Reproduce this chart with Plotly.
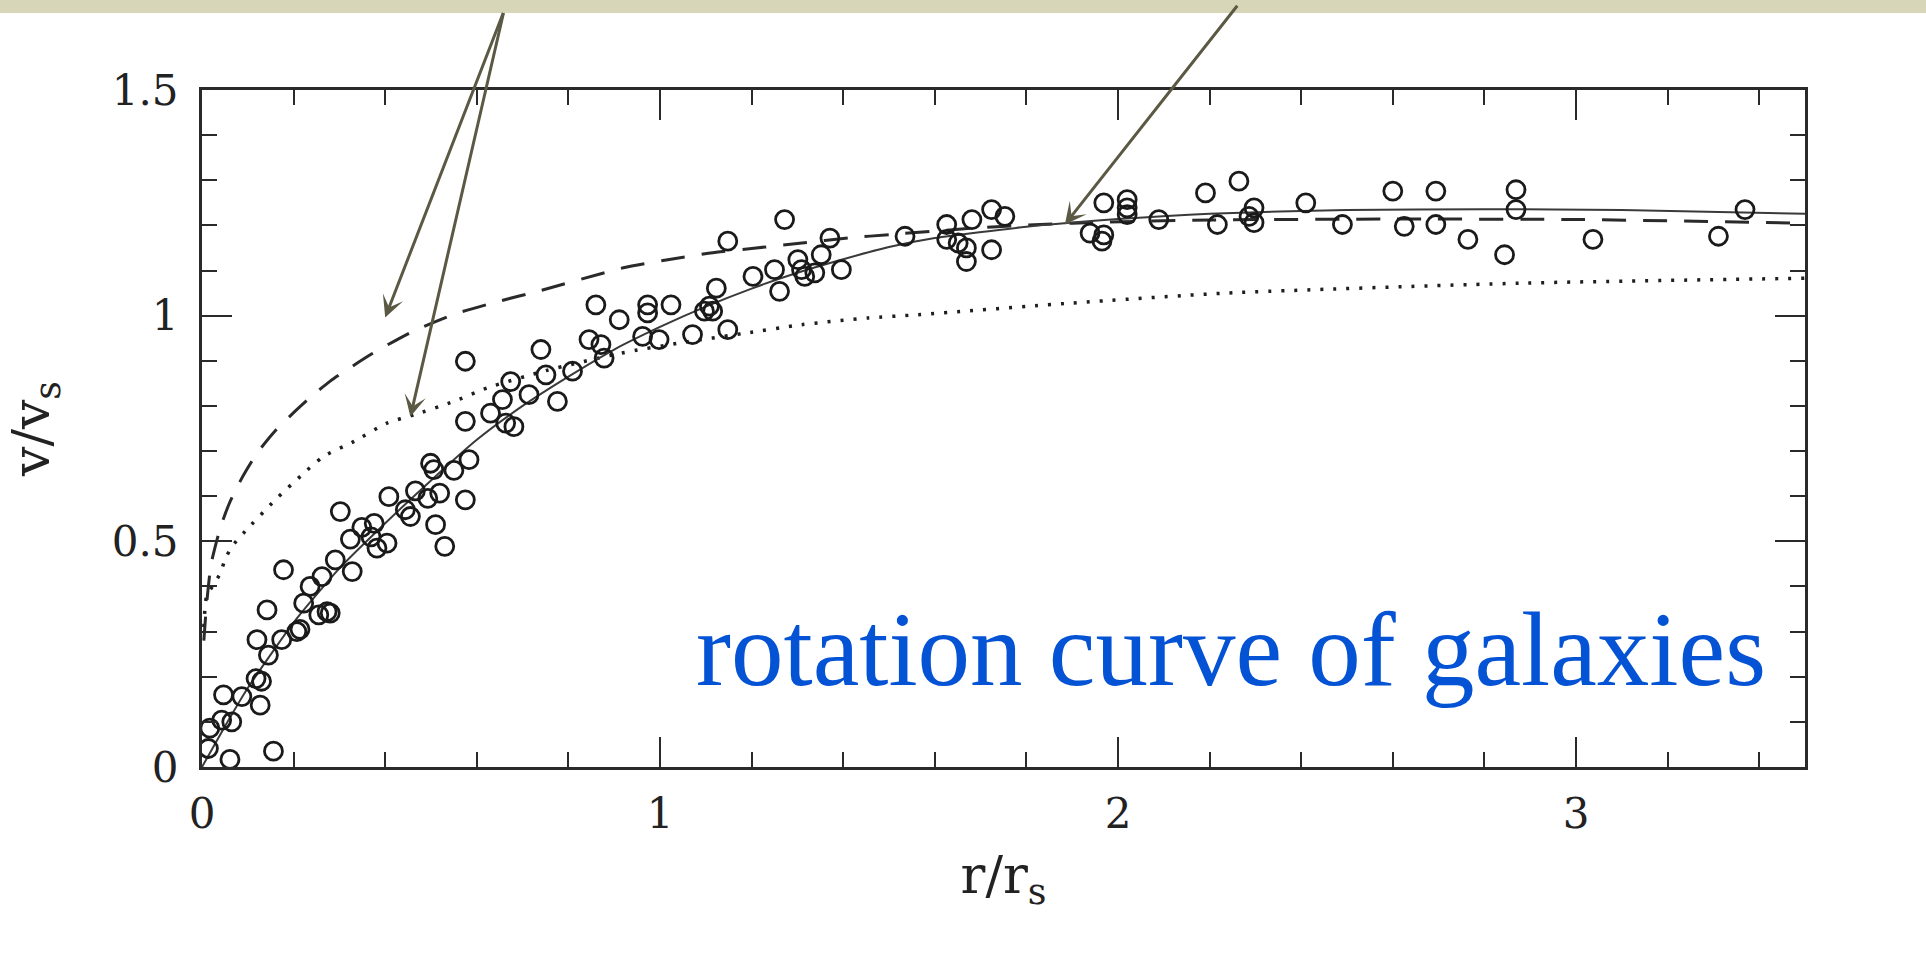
import plotly.graph_objects as go

# ---------------- data ----------------
obs_r = [0.014, 0.017, 0.043, 0.047, 0.061, 0.065, 0.087, 0.118, 0.120, 0.127, 0.130, 0.142, 0.145, 0.156,
         0.174, 0.178, 0.207, 0.214, 0.222, 0.236, 0.255, 0.262, 0.273, 0.280, 0.291,
         0.302, 0.324, 0.328, 0.349, 0.369, 0.376, 0.382, 0.404, 0.408, 0.444, 0.455, 0.466, 0.493, 0.499,
         0.506, 0.510, 0.519, 0.530, 0.550, 0.575, 0.583,
         0.575, 0.575, 0.630, 0.656, 0.663, 0.674, 0.681, 0.714, 0.740, 0.751, 0.776, 0.809, 0.845, 0.860,
         0.871, 0.878, 0.911,
         0.962, 0.973, 0.973, 0.998, 1.024, 1.071, 1.097, 1.108, 1.115, 1.123, 1.148, 1.148, 1.203, 1.250,
         1.261, 1.272, 1.301, 1.309, 1.316, 1.338, 1.352, 1.371, 1.396, 1.535,
         1.626, 1.626, 1.651, 1.669, 1.669, 1.681, 1.724, 1.724, 1.753, 1.939, 1.965, 1.969, 1.969, 2.020,
         2.020, 2.020, 2.089, 2.191, 2.217,
         2.264, 2.286, 2.297, 2.297, 2.410, 2.490, 2.600, 2.625, 2.694, 2.694, 2.764, 2.844, 2.869, 2.869,
         3.037, 3.311, 3.369]
obs_v = [0.041, 0.086, 0.104, 0.160, 0.017, 0.100, 0.156, 0.196, 0.282, 0.137, 0.190, 0.348, 0.248, 0.035,
         0.282, 0.437, 0.300, 0.305, 0.363, 0.400, 0.337, 0.422, 0.344, 0.341, 0.459,
         0.566, 0.505, 0.433, 0.531, 0.510, 0.540, 0.485, 0.496, 0.599, 0.570, 0.555, 0.612, 0.595, 0.673,
         0.659, 0.537, 0.607, 0.489, 0.657, 0.592, 0.681,
         0.899, 0.766, 0.784, 0.814, 0.762, 0.854, 0.754, 0.825, 0.925, 0.869, 0.810, 0.877, 0.947, 1.024,
         0.936, 0.906, 0.991,
         0.954, 1.006, 1.024, 0.947, 1.024, 0.958, 1.010, 1.021, 1.010, 1.061, 0.969, 1.165, 1.087, 1.102,
         1.054, 1.213, 1.124, 1.102, 1.087, 1.095, 1.135, 1.172, 1.102, 1.176,
         1.169, 1.202, 1.161, 1.120, 1.150, 1.213, 1.146, 1.235, 1.220, 1.183, 1.165, 1.179, 1.250, 1.224,
         1.239, 1.257, 1.213, 1.272, 1.202,
         1.298, 1.220, 1.206, 1.239, 1.250, 1.202, 1.276, 1.198, 1.202, 1.276, 1.169, 1.135, 1.235, 1.279,
         1.169, 1.176, 1.235]

solid_r = [0, 0.05, 0.1, 0.2, 0.3, 0.4, 0.5, 0.6, 0.7, 0.8, 0.9, 1.0, 1.1, 1.2, 1.3, 1.4, 1.5, 1.6,
           1.8, 2.0, 2.2, 2.5, 2.8, 3.1, 3.5]
solid_v = [0, 0.09, 0.175, 0.32, 0.44, 0.54, 0.635, 0.725, 0.80, 0.865, 0.925, 0.975, 1.02, 1.06, 1.095,
           1.125, 1.152, 1.172, 1.197, 1.214, 1.226, 1.234, 1.236, 1.234, 1.226]

dash_r = [0.004, 0.01, 0.02, 0.04, 0.06, 0.087, 0.12, 0.16, 0.2, 0.24, 0.28, 0.37, 0.46, 0.55, 0.645, 0.733,
          0.92, 1.017, 1.11, 1.21, 1.31, 1.41, 1.505, 1.7, 1.9, 2.2, 2.6, 3.0, 3.5]
dash_v = [0.28, 0.36, 0.45, 0.53, 0.585, 0.64, 0.695, 0.745, 0.785, 0.822, 0.855, 0.915, 0.965, 1.003, 1.031, 1.054,
          1.106, 1.124, 1.139, 1.15, 1.161, 1.172, 1.18, 1.195, 1.205, 1.212, 1.214, 1.213, 1.205]

dot_r = [0.004, 0.01, 0.025, 0.04, 0.05, 0.065, 0.094, 0.16, 0.218, 0.265, 0.331, 0.404, 0.462, 0.55,
         0.623, 0.75, 0.915, 1.046, 1.185, 1.309, 1.455, 1.563, 1.9, 2.235, 2.88, 3.5]
dot_v = [0.31, 0.378, 0.404, 0.429, 0.459, 0.488, 0.522, 0.592, 0.647, 0.688, 0.721, 0.762, 0.78, 0.81,
         0.84, 0.878, 0.917, 0.94, 0.961, 0.98, 0.995, 1.002, 1.028, 1.05, 1.072, 1.083]

x_tick_vals = [0, 1, 2, 3]
y_tick_vals = [0, 0.5, 1, 1.5]
y_tick_text = ["0", "0.5", "1", "1.5"]

label_text = "rotation curve of galaxies"
# arrows: (tip r, tip v, tail r, tail v)
arrow_tips = [(0.400, 0.996, 0.659, 1.674), (0.455, 0.776, 0.659, 1.674), (1.884, 1.202, 2.263, 1.69)]

# ---------------- figure ----------------
INK = "#2a2a2a"
fig = go.Figure()

fig.add_trace(go.Scatter(x=dot_r, y=dot_v, mode="lines", line=dict(color="#1e1e1e", width=3.5, dash="3px,10px", shape="spline", smoothing=0.6),
                         hoverinfo="skip", showlegend=False))
fig.add_trace(go.Scatter(x=dash_r, y=dash_v, mode="lines", line=dict(color="#2a2a2a", width=3, dash="24px,17px", shape="spline", smoothing=0.6),
                         hoverinfo="skip", showlegend=False))
fig.add_trace(go.Scatter(x=solid_r, y=solid_v, mode="lines", line=dict(color="#3a3a3a", width=2, shape="spline", smoothing=0.6),
                         hoverinfo="skip", showlegend=False))
fig.add_trace(go.Scatter(x=obs_r, y=obs_v, mode="markers",
                         marker=dict(symbol="circle-open", size=18, color="#1a1a1a", line=dict(width=2.8, color="#1a1a1a")),
                         showlegend=False))

tick_font = dict(family="DejaVu Serif", size=42, color="#222222")
title_font = dict(family="DejaVu Serif", size=52, color="#222222")

fig.update_xaxes(range=[0, 3.5], showgrid=False, zeroline=False,
                 showline=True, linecolor=INK, linewidth=3, mirror="allticks",
                 ticks="inside", ticklen=30, tickwidth=2, tickcolor=INK,
                 tickvals=x_tick_vals, tickfont=tick_font, ticklabelstandoff=8,
                 minor=dict(ticks="inside", ticklen=15, tickwidth=2, tickcolor=INK, dtick=0.2, tick0=0, showgrid=False),
                 title=dict(text="r/r<sub>s</sub>", font=title_font, standoff=20))
fig.update_yaxes(range=[0, 1.5], showgrid=False, zeroline=False,
                 showline=True, linecolor=INK, linewidth=3, mirror="allticks",
                 ticks="inside", ticklen=30, tickwidth=2, tickcolor=INK,
                 tickvals=y_tick_vals, ticktext=y_tick_text, tickfont=tick_font, ticklabelstandoff=12,
                 minor=dict(ticks="inside", ticklen=15, tickwidth=2, tickcolor=INK, dtick=0.1, tick0=0, showgrid=False),
                 title=dict(text="v/v<sub>s</sub>", font=title_font, standoff=46))

annotations = [dict(x=3.42, y=0.127, xref="x", yref="y", xanchor="right", yanchor="bottom",
                    text=label_text, showarrow=False,
                    font=dict(family="Liberation Serif", size=105, color="#0553D5"))]
for tx, ty, ax, ay in arrow_tips:
    annotations.append(dict(x=tx, y=ty, xref="x", yref="y", ax=ax, ay=ay, axref="x", ayref="y",
                            text="", showarrow=True, arrowhead=3, arrowsize=1.2, arrowwidth=3,
                            arrowcolor="#5b5843", standoff=0))

fig.update_layout(
    width=1926, height=958,
    margin=dict(l=202, r=121, t=90, b=191, autoexpand=False),
    paper_bgcolor="white", plot_bgcolor="white",
    showlegend=False,
    annotations=annotations,
    shapes=[dict(type="rect", xref="paper", yref="paper", x0=-0.2, x1=1.2,
                 y0=1 + (90 - 13) / 677, y1=1 + 95 / 677, fillcolor="#D7D6B8", line=dict(width=0), layer="below")],
)

fig.write_html("out.html")
